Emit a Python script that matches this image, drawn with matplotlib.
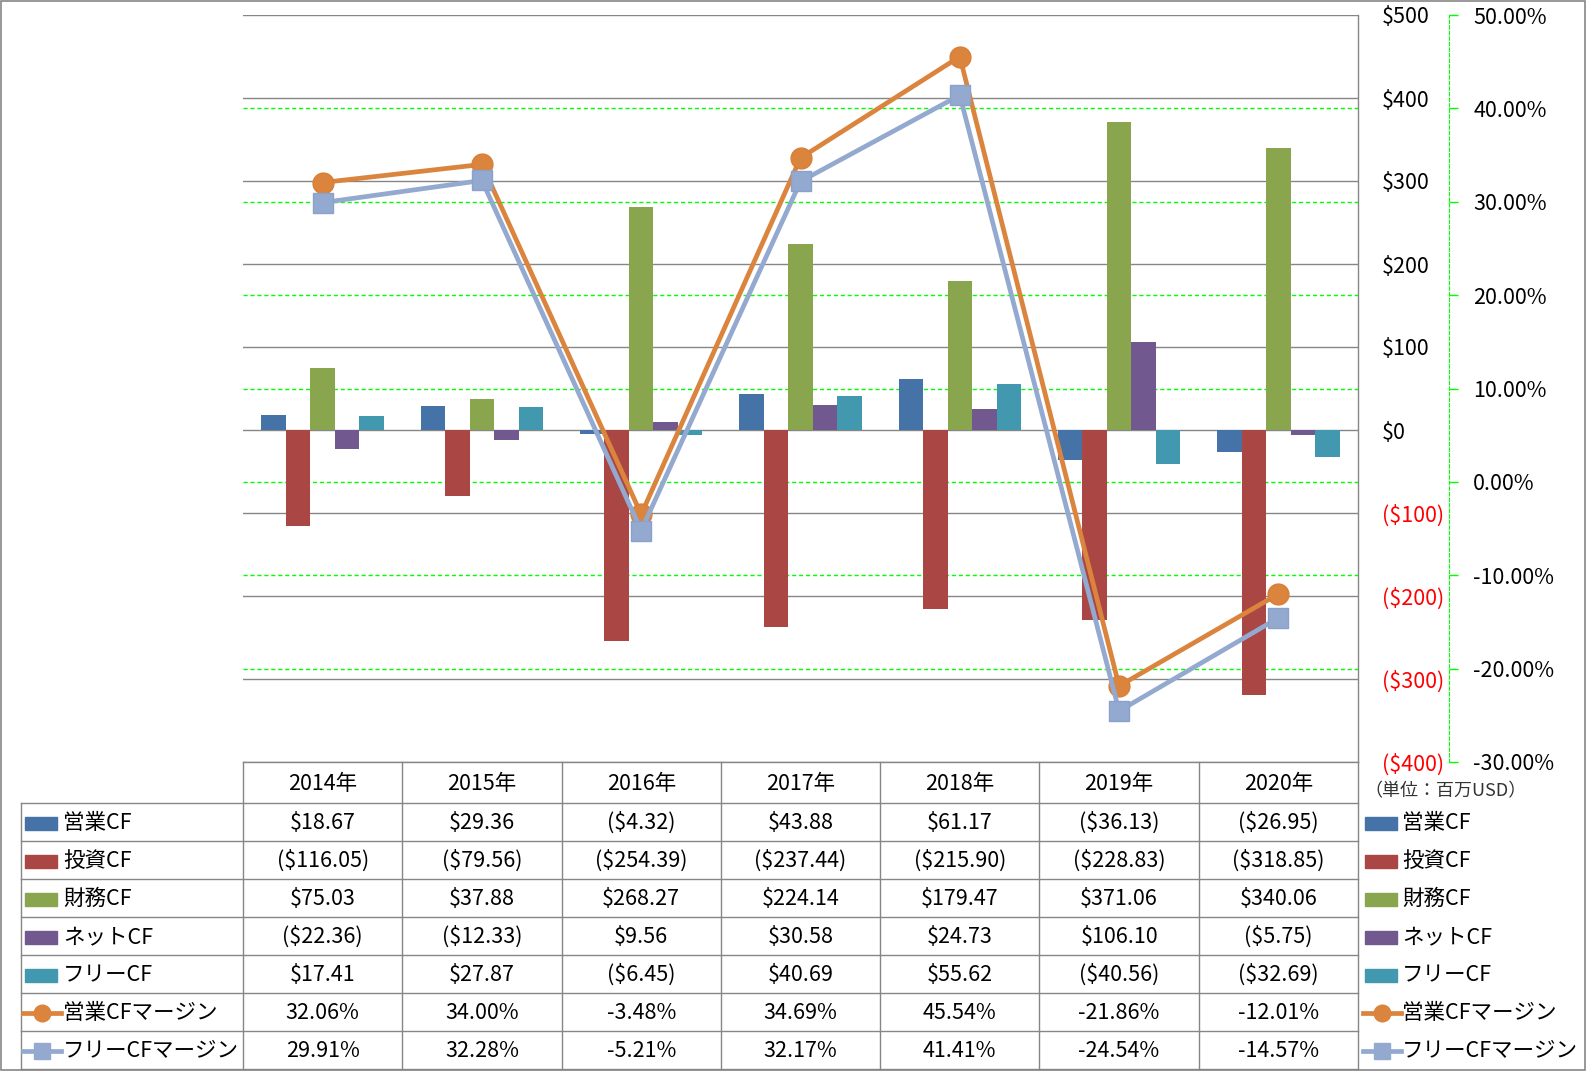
import numpy as np
import matplotlib.pyplot as plt
from matplotlib.lines import Line2D
from matplotlib.patches import Rectangle
from matplotlib.transforms import blended_transform_factory

plt.rcParams['font.family'] = ['Noto Sans CJK JP', 'DejaVu Sans']

years = ['2014年', '2015年', '2016年', '2017年', '2018年', '2019年', '2020年']
bar_names = ['営業CF', '投資CF', '財務CF', 'ネットCF', 'フリーCF']
op_cf = [18.67, 29.36, -4.32, 43.88, 61.17, -36.13, -26.95]
inv_cf = [-116.05, -79.56, -254.39, -237.44, -215.90, -228.83, -318.85]
fin_cf = [75.03, 37.88, 268.27, 224.14, 179.47, 371.06, 340.06]
net_cf = [-22.36, -12.33, 9.56, 30.58, 24.73, 106.10, -5.75]
free_cf = [17.41, 27.87, -6.45, 40.69, 55.62, -40.56, -32.69]
line_names = ['営業CFマージン', 'フリーCFマージン']
op_margin = [32.06, 34.00, -3.48, 34.69, 45.54, -21.86, -12.01]
free_margin = [29.91, 32.28, -5.21, 32.17, 41.41, -24.54, -14.57]

bar_colors = ['#4572A7', '#AA4643', '#89A54E', '#71588F', '#4198AF']
line_colors = ['#DB843D', '#93A9CF']
line_markers = ['o', 's']

W, H = 1586, 1071
fig = plt.figure(figsize=(W / 100, H / 100), dpi=100)

def fx(x):
    return x / W

def fy(y):
    return 1 - y / H

L, R, T, B = 243, 1358, 15, 762
rect = [fx(L), fy(B), fx(R) - fx(L), fy(T) - fy(B)]

ax_pct = fig.add_axes(rect)
ax = fig.add_axes(rect)
ax_line = fig.add_axes(rect)
ax_pct.set_zorder(0)
ax.set_zorder(1)
ax_line.set_zorder(2)
ax.patch.set_visible(False)
ax_line.patch.set_visible(False)

grey = '#868686'
lime = '#00FF00'
fs = 15.5

# bars
series = [op_cf, inv_cf, fin_cf, net_cf, free_cf]
x = np.arange(len(years))
w = 1 / 6.5
for i, (vals, c) in enumerate(zip(series, bar_colors)):
    ax.bar(x + (i - 2) * w, vals, w, color=c, zorder=3)
ax.set_xlim(-0.5, len(years) - 0.5)
ax.set_ylim(-400, 500)
ax.set_yticks(np.arange(-400, 501, 100))
ax.yaxis.tick_right()
ax.set_xticks([])
ax.grid(axis='y', color=grey, lw=1.0, zorder=0)
ax.set_axisbelow(True)
ax.tick_params(axis='y', length=0, pad=17, labelsize=fs)
ax.set_yticklabels(['$%d' % v if v >= 0 else '($%d)' % -v for v in ax.get_yticks()])
for lab, v in zip(ax.get_yticklabels(), ax.get_yticks()):
    lab.set_color('red' if v < 0 else 'black')
for s in ax.spines.values():
    s.set_visible(False)

# percent axis
pct_ticks = np.arange(-30, 51, 10)
ax_pct.set_xlim(-0.5, len(years) - 0.5)
ax_pct.set_ylim(-30, 50)
ax_pct.set_yticks(pct_ticks)
ax_pct.yaxis.tick_right()
ax_pct.set_xticks([])
for v in pct_ticks[1:-1]:
    ax_pct.axhline(v, color=lime, lw=1.0, ls=(0, (3, 2)))
ax_pct.tick_params(axis='y', length=6.5, width=1, color=lime, pad=11, labelsize=fs)
ax_pct.set_yticklabels(['%.2f%%' % v for v in pct_ticks])
for lab, v in zip(ax_pct.get_yticklabels(), pct_ticks):
    lab.set_color('red' if v < 0 else 'black')
for k, s in ax_pct.spines.items():
    s.set_visible(k == 'right')
ax_pct.spines['right'].set_position(('outward', 91 * 0.72))
ax_pct.spines['right'].set_color(lime)
ax_pct.spines['right'].set_linestyle((0, (3, 2)))

# margin lines
ax_line.set_xlim(-0.5, len(years) - 0.5)
ax_line.set_ylim(-30, 50)
ax_line.axis('off')
for vals, c, m in zip([op_margin, free_margin], line_colors, line_markers):
    mec = '#D97F35' if m == 'o' else '#8AA1C9'
    ax_line.plot(x, vals, color=c, lw=3.4, marker=m, ms=15, mfc=c, mec=mec, mew=1)

# data table lines
def hline(y, x0, x1):
    fig.add_artist(Line2D([fx(x0), fx(x1)], [fy(y), fy(y)], color=grey, lw=1.0))

def vline(xp, y0, y1):
    fig.add_artist(Line2D([fx(xp), fx(xp)], [fy(y0), fy(y1)], color=grey, lw=1.0))

row_edges = [762, 803, 841, 879, 917, 955, 993, 1031, 1069]
hline(row_edges[0], L, R)
for y in row_edges[1:]:
    hline(y, 21, R)
col_w = (R - L) / len(years)
for k in range(len(years) + 1):
    vline(L + k * col_w, row_edges[0], row_edges[-1])
vline(R, T, row_edges[0])
vline(21, row_edges[1], row_edges[-1])

# table text
tr = blended_transform_factory(ax.transData, fig.transFigure)
hdr_y = fy((row_edges[0] + row_edges[1]) / 2 + 1)
for i, yr in enumerate(years):
    fig.text(i, hdr_y, yr, transform=tr, ha='center', va='center', fontsize=fs)

def money(v):
    return '$%.2f' % v if v >= 0 else '($%.2f)' % -v

rows = [[money(v) for v in s] for s in series]
rows += [['%.2f%%' % v for v in s] for s in [op_margin, free_margin]]
names = bar_names + line_names
for r, (name, vals) in enumerate(zip(names, rows)):
    yc = fy((row_edges[r + 1] + row_edges[r + 2]) / 2 + 1)
    for i, v in enumerate(vals):
        fig.text(i, yc, v, transform=tr, ha='center', va='center', fontsize=fs)
    for x0, tx in [(25, 63), (1365, 1402)]:
        if r < 5:
            fig.add_artist(Rectangle((fx(x0), yc - 6.5 / H), 32 / W, 13 / H,
                                     color=bar_colors[r], transform=fig.transFigure))
        else:
            c = line_colors[r - 5]
            fig.add_artist(Line2D([fx(x0 - 2), fx(x0 + 36)], [yc, yc], color=c, lw=3.4))
            fig.add_artist(Line2D([fx(x0 + 17)], [yc], color=c, marker=line_markers[r - 5],
                                  ms=12, mfc=c, mec=c))
        fig.text(fx(tx), yc, name, ha='left', va='center', fontsize=fs)

fig.text(fx(1364), fy(791), '（単位：百万USD）', ha='left', va='center', fontsize=13, color='#333333')

# chart border
fig.add_artist(Rectangle((0.0005, 0.0005), 0.999, 0.999, fill=False, ec=grey, lw=1.2,
                         transform=fig.transFigure))

fig.savefig('out.png', dpi=100)
